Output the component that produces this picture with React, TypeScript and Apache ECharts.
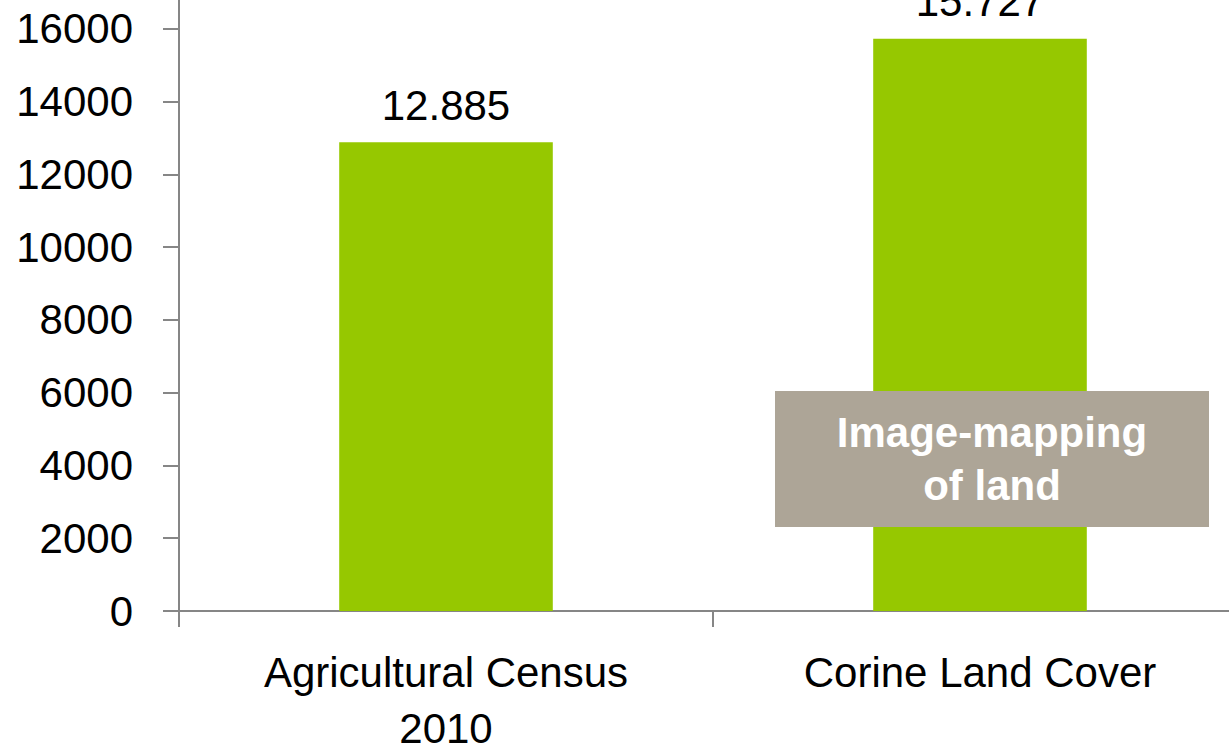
import React, { useEffect, useRef } from "react";
import * as echarts from "echarts";

const categories = ["Agricultural Census\n2010", "Corine Land Cover"];
const values = [12885, 15727];
const valueLabels = ["12.885", "15.727"];
const yMin = 0;
const yMax = 18000;
const yInterval = 2000;
const annotationLines = ["Image-mapping", "of land"];

const FONT = "Liberation Sans";
const OFFSET_TOP = 44;

export default function App() {
  const ref = useRef<HTMLDivElement>(null);
  useEffect(() => {
    if (!ref.current) return;
    const chart = echarts.init(ref.current, undefined, { renderer: "svg" });
    chart.setOption({
      animation: false,
      backgroundColor: "#ffffff",
      grid: {
        left: 179,
        right: 0,
        top: 0,
        bottom: 138,
        containLabel: false,
        outerBoundsMode: "none",
      },
      xAxis: {
        type: "category",
        data: categories,
        axisLine: { lineStyle: { color: "#868686", width: 2 } },
        axisTick: { show: true, length: 16, lineStyle: { color: "#868686", width: 2 } },
        axisLabel: {
          color: "#000000",
          fontFamily: FONT,
          fontSize: 42,
          lineHeight: 56,
          margin: 33,
          interval: 0,
        },
      },
      yAxis: {
        type: "value",
        min: yMin,
        max: yMax,
        interval: yInterval,
        splitLine: { show: false },
        axisLine: { show: true, lineStyle: { color: "#868686", width: 2 } },
        axisTick: { show: true, length: 16, lineStyle: { color: "#868686", width: 2 } },
        axisLabel: {
          color: "#000000",
          fontFamily: FONT,
          fontSize: 42,
          margin: 46,
          showMaxLabel: false,
          formatter: (v: number) => String(v),
        },
      },
      series: [
        {
          type: "bar",
          data: values,
          barWidth: "40%",
          itemStyle: { color: "#96C800" },
          label: {
            show: true,
            position: "top",
            distance: 16,
            color: "#000000",
            fontFamily: FONT,
            fontSize: 42,
            lineHeight: 42,
            formatter: (p: any) => valueLabels[p.dataIndex],
          },
        },
      ],
      graphic: [
        {
          type: "group",
          left: 775,
          top: 391 + OFFSET_TOP,
          z: 100,
          children: [
            {
              type: "rect",
              z: 100,
              shape: { x: 0, y: 0, width: 434, height: 136 },
              style: { fill: "#ADA597" },
            },
            {
              type: "text",
              z: 101,
              x: 217,
              y: 68,
              style: {
                text: annotationLines.join("\n"),
                fill: "#ffffff",
                font: `bold 42px '${FONT}'`,
                lineHeight: 53,
                align: "center",
                verticalAlign: "middle",
              },
            },
          ],
        },
      ],
    });
    return () => chart.dispose();
  }, []);
  return (
    <div
      ref={ref}
      style={{
        position: "fixed",
        left: 0,
        top: -OFFSET_TOP,
        width: 1247,
        height: 749 + OFFSET_TOP,
      }}
    />
  );
}
